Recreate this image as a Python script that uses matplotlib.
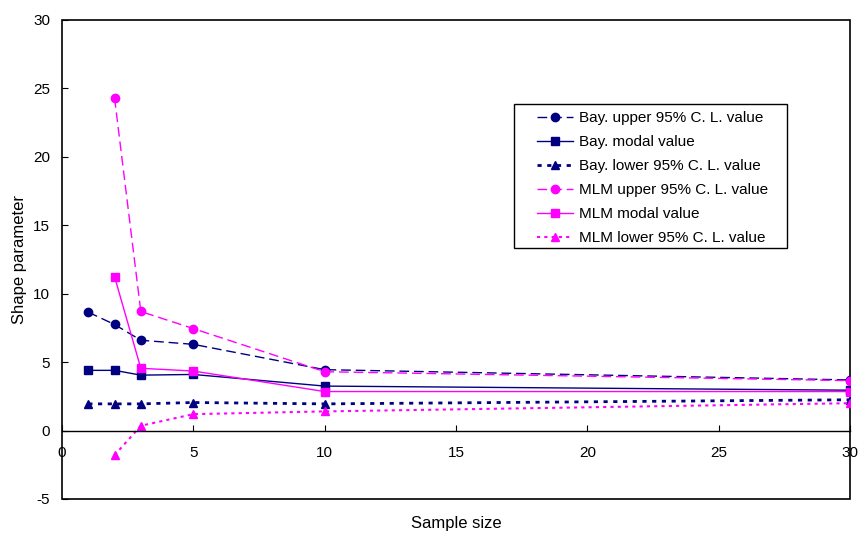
import matplotlib
matplotlib.use("Agg")
import matplotlib.pyplot as plt
import matplotlib.patches as patches

plt.rcParams['font.family'] = ['Liberation Sans', 'DejaVu Sans']
plt.rcParams['axes.unicode_minus'] = False

sample_size = [1, 2, 3, 5, 10, 30]
mlm_size = [2, 3, 5, 10, 30]

bay_upper = [8.65, 7.75, 6.6, 6.3, 4.45, 3.7]
bay_modal = [4.4, 4.4, 4.05, 4.1, 3.25, 2.95]
bay_lower = [1.95, 1.95, 1.95, 2.05, 1.95, 2.25]
mlm_upper = [24.3, 8.7, 7.45, 4.3, 3.65]
mlm_modal = [11.25, 4.55, 4.35, 2.85, 2.85]
mlm_lower = [-1.8, 0.35, 1.2, 1.4, 2.0]

navy = "#000080"
pink = "#FF00FF"

fig = plt.figure(figsize=(8.6, 5.33), dpi=100)
ax = fig.add_axes([0.0721, 0.0638, 0.9163, 0.8987])

ax.plot(sample_size, bay_upper, color=navy, linestyle=(0, (7, 3.5)), lw=1,
        marker="o", ms=6, label="Bay. upper 95% C. L. value")
ax.plot(sample_size, bay_modal, color=navy, linestyle="-", lw=1,
        marker="s", ms=6, label="Bay. modal value")
ax.plot(sample_size, bay_lower, color=navy, linestyle=(0, (1.5, 2)), lw=2,
        marker="^", ms=6, label="Bay. lower 95% C. L. value")
ax.plot(mlm_size, mlm_upper, color=pink, linestyle=(0, (7, 3.5)), lw=1,
        marker="o", ms=6, label="MLM upper 95% C. L. value")
ax.plot(mlm_size, mlm_modal, color=pink, linestyle="-", lw=1,
        marker="s", ms=6, label="MLM modal value")
ax.plot(mlm_size, mlm_lower, color=pink, linestyle=(0, (1.5, 2)), lw=1.5,
        marker="^", ms=6, label="MLM lower 95% C. L. value")

ax.set_xlim(0, 30)
ax.set_ylim(-5, 30)
ax.set_xticks([0, 5, 10, 15, 20, 25, 30])
ax.set_yticks([-5, 0, 5, 10, 15, 20, 25, 30])

# x axis crosses at zero, frame drawn separately
for s in ["top", "right", "left"]:
    ax.spines[s].set_visible(False)
ax.spines["bottom"].set_position(("data", 0))
ax.spines["bottom"].set_linewidth(1)
ax.add_patch(patches.Rectangle((0, 0), 1, 1, transform=ax.transAxes,
                               fill=False, edgecolor="black", lw=1.2,
                               clip_on=False))

ax.tick_params(axis="x", direction="in", length=4, labelsize=11, pad=11)
ax.tick_params(axis="y", direction="in", length=4, labelsize=11, pad=8.5)

ax.set_xlabel("Sample size", fontsize=12, va="top")
ax.xaxis.set_label_coords(0.5, -0.036)
ax.set_ylabel("Shape parameter", fontsize=12)
ax.yaxis.set_label_coords(-0.044, 0.5)

# legend text without frame, box drawn as its own patch
leg = ax.legend(loc="upper left", bbox_to_anchor=(0.6028, 0.810),
                fontsize=11, frameon=False, borderpad=0, borderaxespad=0,
                handlelength=2.35, handletextpad=0.4, labelspacing=0.66)
ax.add_patch(patches.Rectangle((0.5736, 0.524), 0.3464, 0.3006,
                               transform=ax.transAxes, fill=True,
                               facecolor="white", edgecolor="black", lw=1,
                               zorder=4))
leg.set_zorder(5)

plt.savefig("out.png", dpi=100)
